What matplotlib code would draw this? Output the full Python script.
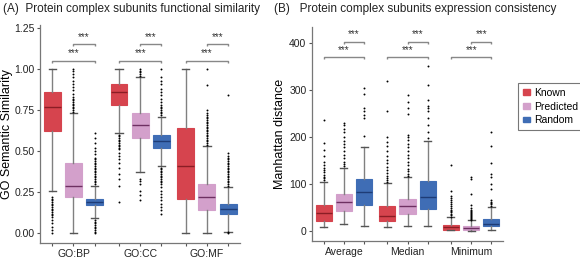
import matplotlib
matplotlib.use("Agg")
import matplotlib.pyplot as plt
from matplotlib.patches import Patch

plt.rcParams['font.family'] = ['Liberation Sans', 'DejaVu Sans']

series = ["Known", "Predicted", "Random"]
colors = ["#d6444e", "#d3a0cb", "#3f6db5"]
med_colors = ["#8a1d25", "#6e3062", "#1e3c76"]

# ---- Panel A: GO semantic similarity ----
groups_a = ["GO:BP", "GO:CC", "GO:MF"]
# (q1, median, q3, whislo, whishi) per group, per series
stats_a = {
    "GO:BP": [(0.62, 0.77, 0.86, 0.26, 1.00), (0.22, 0.29, 0.43, 0.00, 0.73), (0.17, 0.19, 0.21, 0.09, 0.29)],
    "GO:CC": [(0.78, 0.86, 0.91, 0.61, 1.00), (0.58, 0.66, 0.73, 0.37, 0.95), (0.52, 0.56, 0.60, 0.41, 0.71)],
    "GO:MF": [(0.21, 0.41, 0.64, 0.00, 1.00), (0.14, 0.22, 0.30, 0.00, 0.53), (0.12, 0.15, 0.18, 0.01, 0.28)],
}
fliers_a = {
    "GO:BP": [
        [0.0, 0.02, 0.04, 0.06, 0.08, 0.10, 0.11, 0.12, 0.13, 0.14, 0.15, 0.16, 0.17, 0.18, 0.19, 0.20, 0.21, 0.22],
        [0.74, 0.75, 0.76, 0.77, 0.78, 0.79, 0.80, 0.81, 0.82, 0.83, 0.85, 0.87, 0.89, 0.91, 0.93, 0.95, 0.97, 0.99, 1.0],
        [0.30, 0.31, 0.32, 0.33, 0.34, 0.35, 0.36, 0.37, 0.38, 0.39, 0.40, 0.41, 0.42, 0.43, 0.44, 0.45, 0.46, 0.48, 0.50, 0.52, 0.55, 0.58, 0.61,
         0.08, 0.07, 0.06, 0.05, 0.04, 0.03, 0.02, 0.01, 0.0],
    ],
    "GO:CC": [
        [0.19, 0.29, 0.33, 0.36, 0.40, 0.43, 0.45, 0.47, 0.49, 0.51, 0.52, 0.53, 0.54, 0.55, 0.56, 0.57, 0.58, 0.59, 0.60],
        [0.96, 0.97, 0.98, 0.99, 1.0, 0.20, 0.23, 0.26, 0.30, 0.32, 0.33],
        [0.72, 0.73, 0.74, 0.75, 0.76, 0.77, 0.78, 0.80, 0.82, 0.84, 0.86, 0.88, 0.91, 0.93, 0.95, 1.0,
         0.12, 0.14, 0.16, 0.18, 0.20, 0.22, 0.24, 0.26, 0.28, 0.30, 0.31, 0.32, 0.33, 0.34, 0.35, 0.36, 0.37, 0.38, 0.39, 0.40],
    ],
    "GO:MF": [
        [],
        [0.54, 0.55, 0.56, 0.57, 0.58, 0.59, 0.60, 0.61, 0.62, 0.63, 0.64, 0.65, 0.66, 0.67, 0.68, 0.69, 0.70, 0.71, 0.72, 0.73, 0.75, 0.90, 1.0],
        [0.29, 0.30, 0.31, 0.32, 0.33, 0.34, 0.35, 0.36, 0.37, 0.38, 0.39, 0.40, 0.41, 0.42, 0.43, 0.44, 0.45, 0.46, 0.47, 0.49, 0.84, 0.005, 0.0],
    ],
}

# ---- Panel B: Manhattan distance ----
groups_b = ["Average", "Median", "Minimum"]
stats_b = {
    "Average": [(22, 38, 55, 8, 105), (43, 62, 80, 15, 135), (55, 83, 110, 12, 178)],
    "Median": [(22, 33, 54, 8, 102), (37, 53, 68, 12, 115), (47, 72, 106, 12, 192)],
    "Minimum": [(3, 8, 14, 2, 30), (3, 6, 11, 0, 23), (10, 16, 26, 3, 52)],
}
fliers_b = {
    "Average": [
        [108, 112, 116, 120, 125, 130, 135, 140, 146, 160, 172, 188, 237],
        [138, 142, 148, 155, 162, 170, 178, 185, 192, 200, 210, 218, 225, 230],
        [203, 240, 248, 255, 262, 292, 305],
    ],
    "Median": [
        [104, 108, 113, 118, 124, 130, 137, 145, 152, 160, 170, 180, 190, 200, 255, 320],
        [118, 122, 127, 133, 140, 147, 155, 162, 170, 178, 186, 194, 200, 205, 250, 262, 275, 290],
        [198, 210, 225, 240, 255, 262, 266, 278, 310, 352],
    ],
    "Minimum": [
        [31, 34, 37, 40, 43, 46, 50, 54, 58, 62, 66, 70, 75, 85, 140],
        [24, 26, 28, 30, 32, 34, 36, 38, 40, 43, 46, 50, 55, 80, 110, 115],
        [54, 57, 60, 63, 66, 90, 100, 115, 122, 145, 182, 210],
    ],
}

GAP = 3.15
offsets = [-1, 0, 1]


def draw_panel(ax, groups, stats, fliers):
    positions, all_stats = [], []
    for gi, g in enumerate(groups):
        for si in range(3):
            q1, med, q3, lo, hi = stats[g][si]
            all_stats.append(dict(q1=q1, med=med, q3=q3, whislo=lo, whishi=hi,
                                  fliers=fliers[g][si]))
            positions.append(gi * GAP + offsets[si])
    for k, (st, pos) in enumerate(zip(all_stats, positions)):
        si = k % 3
        ax.bxp([st], positions=[pos], widths=0.8, patch_artist=True,
               showfliers=True, capwidths=0.35,
               boxprops=dict(facecolor=colors[si], edgecolor=colors[si], linewidth=0.8),
               medianprops=dict(color=med_colors[si], linewidth=1.0),
               whiskerprops=dict(color="#808080", linewidth=1.0),
               capprops=dict(color="#555555", linewidth=1.0),
               flierprops=dict(marker='o', markersize=1.4, markerfacecolor='black',
                               markeredgecolor='none', linestyle='none'))
    ax.set_xticks(positions)
    labels = []
    for gi, g in enumerate(groups):
        labels += ["", g, ""]
    ax.set_xticklabels(labels, fontsize=7.5)
    for s in ["top", "right"]:
        ax.spines[s].set_visible(False)
    for s in ["left", "bottom"]:
        ax.spines[s].set_color("#777777")
        ax.spines[s].set_linewidth(0.9)
    ax.tick_params(axis='both', colors="#555555", labelcolor="#222222", length=2.5, width=0.8, pad=1.5)
    ax.tick_params(axis='y', labelsize=7.5)
    ax.set_xlim(-1.58, 2 * GAP + 1.57)
    return positions


def brackets(ax, groups, y_long, y_short, tick, star_off):
    for gi in range(len(groups)):
        c = gi * GAP
        for (x0, x1, y) in [(c - 1, c + 1, y_long), (c, c + 1, y_short)]:
            ax.plot([x0, x0, x1, x1], [y - tick, y, y, y - tick], color="#888888", lw=1.0,
                    solid_capstyle='butt', clip_on=False)
            ax.text((x0 + x1) / 2, y + star_off, "***", ha='center', va='bottom',
                    fontsize=7, color="#333333")


fig = plt.figure(figsize=(5.8, 2.6), dpi=100)
axA = fig.add_axes([0.069, 0.065, 0.345, 0.84])
axB = fig.add_axes([0.538, 0.073, 0.329, 0.823])

draw_panel(axA, groups_a, stats_a, fliers_a)
axA.set_ylim(-0.06, 1.27)
axA.set_yticks([0, 0.25, 0.5, 0.75, 1.0, 1.25])
axA.set_yticklabels(["0.00", "0.25", "0.50", "0.75", "1.00", "1.25"])
axA.set_ylabel("GO Semantic Similarity", fontsize=9, labelpad=1)
brackets(axA, groups_a, 1.05, 1.15, 0.012, 0.015)

draw_panel(axB, groups_b, stats_b, fliers_b)
axB.set_ylim(-21, 434)
axB.set_yticks([0, 100, 200, 300, 400])
axB.set_ylabel("Manhattan distance", fontsize=9, labelpad=2)
brackets(axB, groups_b, 370, 403, 4, 5)

fig.text(0.005, 0.965, "(A)  Protein complex subunits functional similarity", fontsize=8.5,
         va='center', ha='left', color="#222222")
fig.text(0.473, 0.965, "(B)   Protein complex subunits expression consistency", fontsize=8.5,
         va='center', ha='left', color="#222222")

handles = [Patch(facecolor=c, edgecolor=c) for c in colors]
leg = fig.legend(handles, series, loc='upper left', bbox_to_anchor=(0.893, 0.68),
                 frameon=True, fancybox=False, fontsize=7.5, handlelength=0.7,
                 handleheight=0.45, handletextpad=0.4, borderpad=0.45, labelspacing=0.35,
                 borderaxespad=0)
leg.get_frame().set_edgecolor("#555555")
leg.get_frame().set_linewidth(0.8)

fig.savefig("out.png", dpi=100)
